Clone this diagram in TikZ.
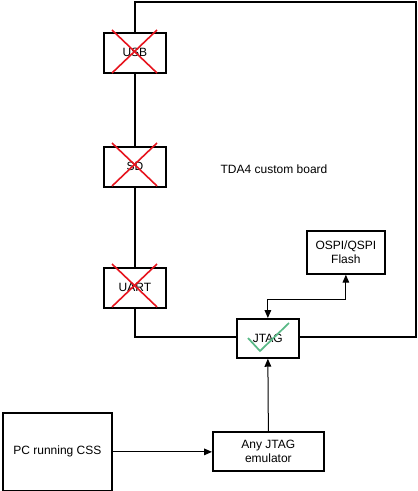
\documentclass[tikz,border=0pt]{standalone}
\usepackage{fontspec}
\setmainfont{Liberation Sans}
\usetikzlibrary{arrows.meta}
\definecolor{xred}{RGB}{230,20,30}
\definecolor{tickgreen}{RGB}{90,185,135}
\begin{document}
\begin{tikzpicture}[x=0.75pt,y=-0.75pt,
  every node/.style={font=\fontsize{9}{11}\selectfont},
  box/.style={draw=black,line width=1.3pt,inner sep=0pt,align=center,anchor=north west},
  wire/.style={draw=black,line width=1.3pt},
  link/.style={draw=black,line width=0.75pt,-{Triangle[length=6pt,width=5pt]}},
  cross/.style={draw=xred,line width=1.2pt},
  tick/.style={draw=tickgreen,line width=1.3pt}]
\useasboundingbox (0,0) rectangle (417,491);
% boxes
\node[box,minimum width=46.5pt,minimum height=30pt] (usb) at (103,32) {USB};
\node[box,minimum width=46.5pt,minimum height=30pt] (sd) at (103,146) {SD};
\node[box,minimum width=46.5pt,minimum height=30pt] (uart) at (103,267) {UART};
\node[box,minimum width=46.5pt,minimum height=29.25pt] (jtag) at (236,318) {JTAG};
\node[box,minimum width=58.5pt,minimum height=32.25pt] (flash) at (306,230) {OSPI/QSPI\\Flash};
\node[box,minimum width=83.25pt,minimum height=29.25pt] (emu) at (212,431) {Any JTAG\\emulator};
\node[box,minimum width=81.75pt,minimum height=58.5pt] (pc) at (2,412) {PC running CSS};
\node (lbl) at (274,169) {TDA4 custom board};
% board outline coordinates
\coordinate (tl) at (134,2);
\coordinate (tr) at (416,2);
\coordinate (br) at (416,337);
\coordinate (bl) at (134,337);
\draw[wire] (usb.north) -- (usb.north |- tl) -- (tr) -- (br) -- (jtag.east |- br);
\draw[wire] (usb.south) -- (sd.north);
\draw[wire] (sd.south) -- (uart.north);
\draw[wire] (uart.south) -- (uart.south |- bl) -- (jtag.west |- bl);
% red crosses
\foreach \n/\t in {usb/30,sd/143,uart/264}{
  \draw[cross] (112,\t) -- (157,\t+43);
  \draw[cross] (157,\t) -- (112,\t+43);
}
% green tick
\draw[tick] (248,338) -- (260,351) -- (289,323);
% connectors
\coordinate (bend1) at (jtag.north |- 0,299);
\coordinate (bend2) at (flash.south |- 0,299);
\draw[link,{Triangle[length=6pt,width=5pt]}-{Triangle[length=6pt,width=5pt]}] (jtag.north) -- (bend1) -- (bend2) -- (flash.south);
\draw[link] (emu.north) -- (jtag.south);
\draw[link] (pc.east) -- (emu.west |- pc.east);
\end{tikzpicture}
\end{document}
